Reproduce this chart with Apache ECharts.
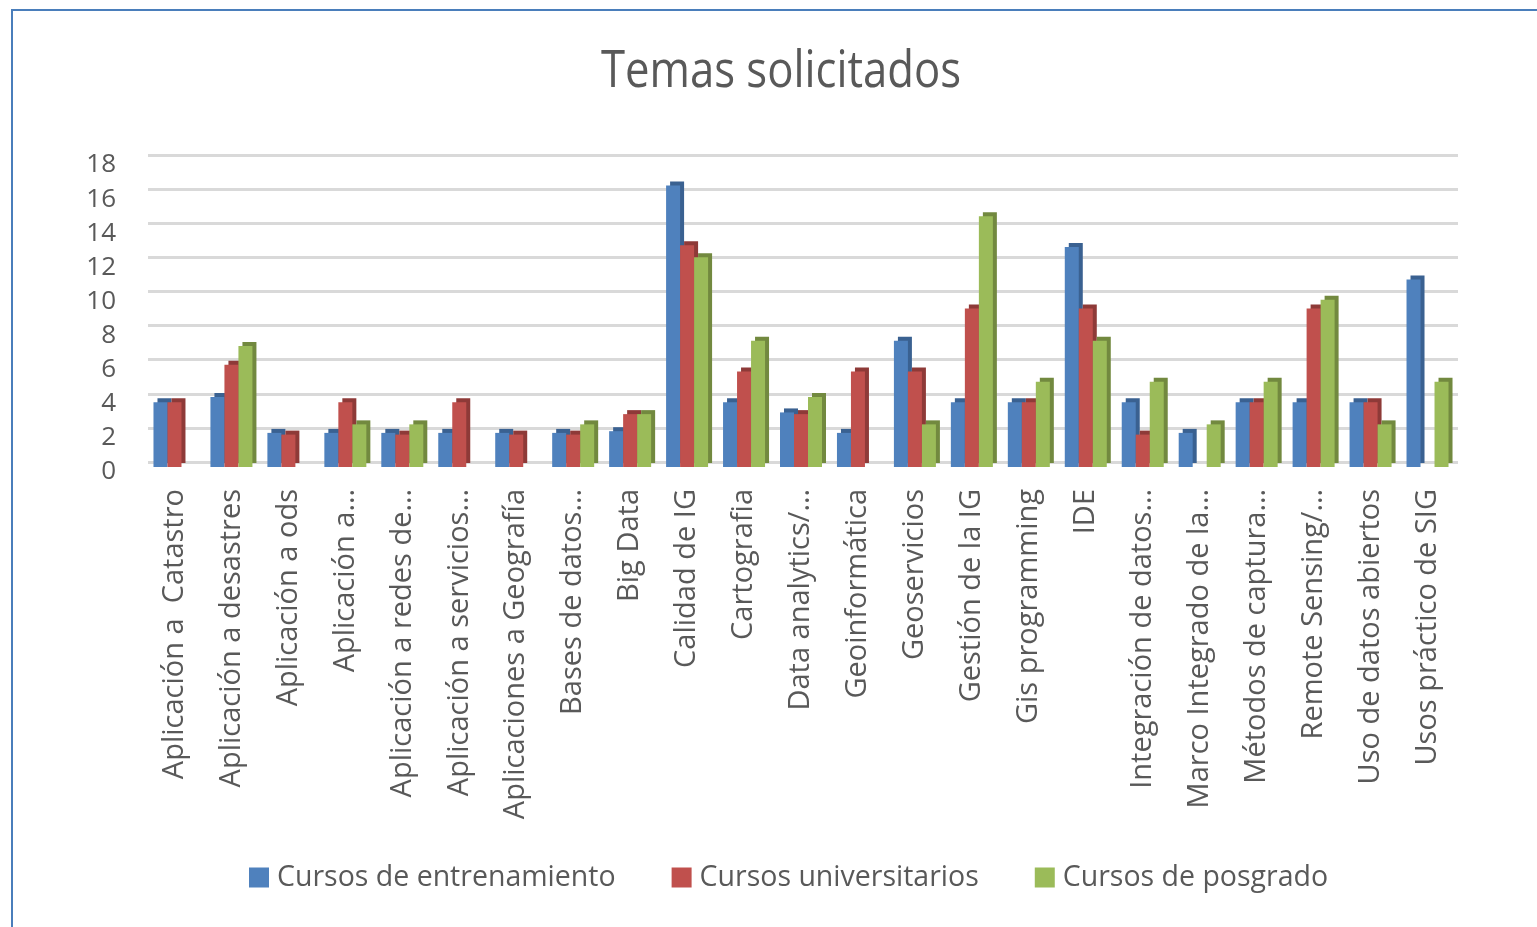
<!DOCTYPE html>
<html>
<head>
<meta charset="utf-8">
<script src="https://cdn.jsdelivr.net/npm/echarts/dist/echarts.min.js"></script>
<style>
  html, body { margin: 0; padding: 0; background: #fff; }
  #char { width: 1537px; height: 927px; }
</style>
</head>
<body>
<div id="char"></div>
<script>
var categories = [
  'Aplicación a  Catastro', 'Aplicación a desastres', 'Aplicación a ods', 'Aplicación a…',
  'Aplicación a redes de…', 'Aplicación a servicios…', 'Aplicaciones a Geografía', 'Bases de datos…',
  'Big Data', 'Calidad de IG', 'Cartografia', 'Data analytics/…', 'Geoinformática', 'Geoservicios',
  'Gestión de la IG', 'Gis programming', 'IDE', 'Integración de datos…', 'Marco Integrado de la…',
  'Métodos de captura…', 'Remote Sensing/…', 'Uso de datos abiertos', 'Usos práctico de SIG'
]
var seriesNames = ['Cursos de entrenamiento', 'Cursos universitarios', 'Cursos de posgrado']
var entrenamiento = [3.8, 4.1, 2, 2, 2, 2, 2, 2, 2.1, 16.5, 3.8, 3.2, 2, 7.4, 3.8, 3.8, 12.9, 3.8, 2, 3.8, 3.8, 3.8, 11]
var universitarios = [3.8, 6, 1.9, 3.8, 1.9, 3.8, 1.9, 1.9, 3.1, 13, 5.6, 3.1, 5.6, 5.6, 9.3, 3.8, 9.3, 1.9, 0, 3.8, 9.3, 3.8, 0]
var posgrado = [0, 7.1, 0, 2.5, 2.5, 0, 0, 2.5, 3.1, 12.3, 7.4, 4.1, 0, 2.5, 14.7, 5, 7.4, 5, 2.5, 5, 9.8, 2.5, 5]

var colors = ['#4f81bd', '#c0504d', '#9bbb59']
var sideColors = ['#3a6191', '#8e3a38', '#72893f']
var textColor = '#595959'
var font = 'Open Sans'

var myChart = echarts.init(document.getElementById('char'))

function barSeries(i, data) {
  return {
    name: seriesNames[i],
    type: 'bar',
    xAxisIndex: 1,
    yAxisIndex: 1,
    barWidth: 14,
    barGap: '0%',
    itemStyle: {
      color: colors[i],
      // fake 3D depth like the Excel chart
      shadowColor: sideColors[i],
      shadowBlur: 0,
      shadowOffsetX: 4,
      shadowOffsetY: -4
    },
    data: data
  }
}

var option = {
  backgroundColor: '#ffffff',
  animation: false,
  textStyle: { fontFamily: font },
  graphic: [
    {
      type: 'rect',
      shape: { x: 12, y: 10, width: 1600, height: 1000 },
      style: { fill: 'none', stroke: '#4a7ebb', lineWidth: 2 },
      silent: true
    },
    {
      type: 'text',
      x: 781,
      y: 72,
      scaleX: 0.84,
      style: {
        text: 'Temas solicitados',
        fontFamily: font,
        fontSize: 52,
        fill: textColor,
        textAlign: 'center',
        textVerticalAlign: 'middle'
      }
    }
  ],
  legend: {
    bottom: 30,
    left: 244,
    icon: 'rect',
    itemWidth: 20,
    itemHeight: 20,
    itemGap: 56,
    textStyle: { color: textColor, fontSize: 28.5, fontFamily: font, padding: [0, 0, 0, 3] },
    data: seriesNames
  },
  grid: [
    // back wall: gridlines
    { left: 148, right: 79, top: 155, bottom: 465, containLabel: false },
    // bars, shifted forward
    { left: 146, right: 81, top: 160, bottom: 460, containLabel: false }
  ],
  xAxis: [
    {
      gridIndex: 0,
      type: 'category',
      data: categories,
      axisLine: { show: false },
      axisTick: { show: false },
      axisLabel: { show: false }
    },
    {
      gridIndex: 1,
      type: 'category',
      data: categories,
      axisLine: { show: false },
      axisTick: { show: false },
      axisLabel: {
        interval: 0,
        rotate: 90,
        margin: 22,
        color: textColor,
        fontSize: 29,
        fontFamily: font
      }
    }
  ],
  yAxis: [
    {
      gridIndex: 0,
      type: 'value',
      min: 0,
      max: 18,
      interval: 2,
      axisLine: { show: false },
      axisTick: { show: false },
      axisLabel: { show: false },
      splitLine: { lineStyle: { color: '#d9d9d9', width: 3 } }
    },
    {
      gridIndex: 1,
      type: 'value',
      min: 0,
      max: 18,
      interval: 2,
      axisLine: { show: false },
      axisTick: { show: false },
      splitLine: { show: false },
      axisLabel: {
        margin: 30,
        verticalAlign: 'top',
        lineHeight: 10,
        color: textColor,
        fontSize: 26,
        fontFamily: font
      }
    }
  ],
  series: [
    barSeries(0, entrenamiento),
    barSeries(1, universitarios),
    barSeries(2, posgrado)
  ]
}

myChart.setOption(option)
</script>
</body>
</html>
